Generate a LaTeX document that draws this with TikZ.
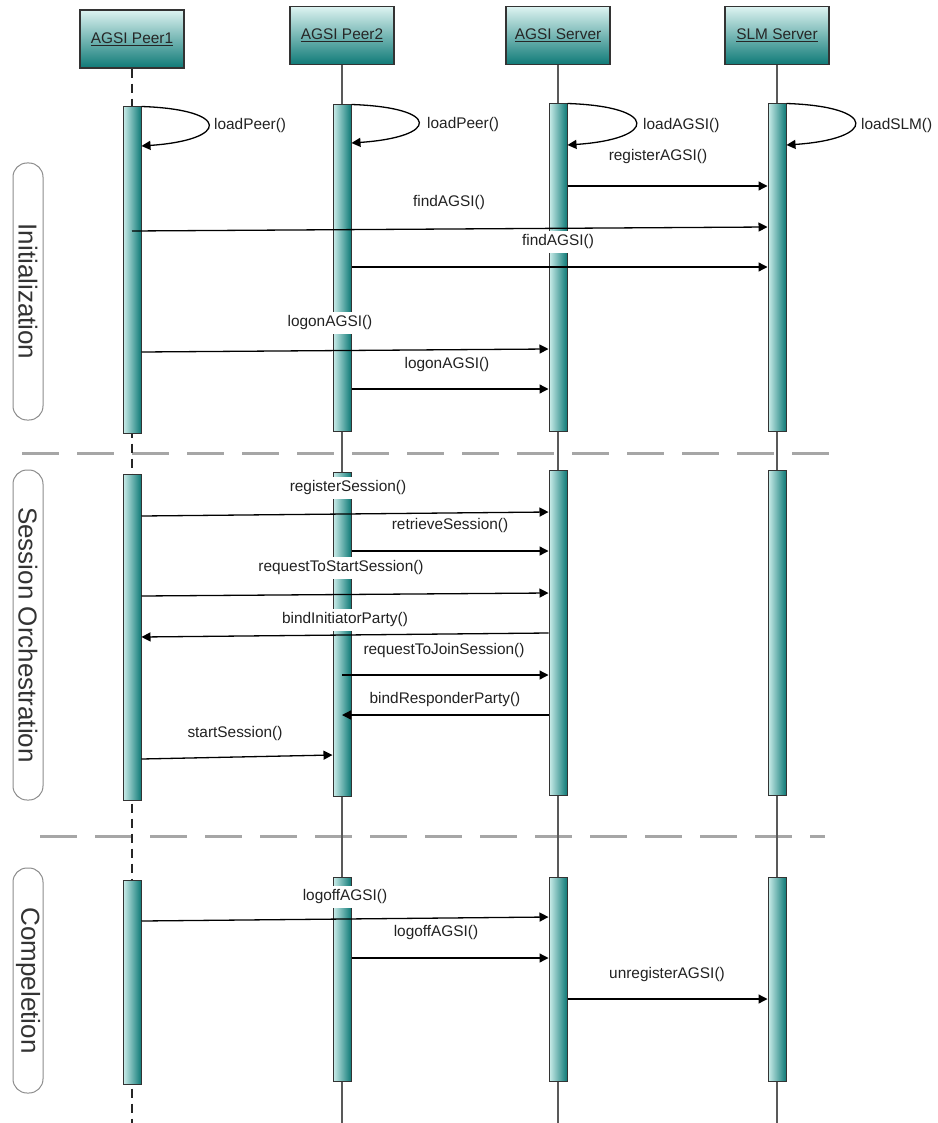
\documentclass[tikz,border=0pt]{standalone}
\usepackage{fontspec}
\setmainfont{Liberation Sans}
\usetikzlibrary{arrows.meta}

\definecolor{tealdark}{HTML}{0F7A77}
\definecolor{teallight}{HTML}{DDF3F1}
\definecolor{barlight}{HTML}{CDEEEB}
\definecolor{inkgray}{HTML}{222222}

\tikzset{
  head/.style={draw=black!80, line width=1.2pt, top color=teallight, bottom color=tealdark,
    minimum width=104pt, minimum height=58pt, inner sep=0pt,
    font=\fontsize{15.4}{18}\selectfont, text=black!85},
  actbar/.style={draw=black!80, line width=1pt, left color=barlight, right color=tealdark,
    minimum width=18pt, inner sep=0pt},
  life/.style={draw=black!65, line width=1.3pt},
  lifedash/.style={draw=black!85, line width=1.3pt, dash pattern=on 9pt off 6pt},
  msg/.style={draw=black, line width=1.3pt, -{Triangle[length=9pt,width=9pt]}},
  lbl/.style={fill=white, inner xsep=1pt, inner ysep=4pt,
    font=\fontsize{15.4}{18}\selectfont, text=inkgray},
  phase/.style={draw=black!45, line width=1pt, rounded corners=14pt, minimum height=30pt,
    inner sep=0pt, rotate=-90, font=\fontsize{26}{30}\selectfont, text=black!80},
  sepline/.style={draw=black!35, line width=3pt, dash pattern=on 37pt off 18pt}
}

\begin{document}
\begin{tikzpicture}[x=1pt,y=-1pt]
\useasboundingbox (0,0) rectangle (937,1123);

% phase separators
\draw[sepline] (22,453) -- (835,453);
\draw[sepline] (40,836) -- (825,836);

% phase labels
\node[phase, minimum width=257pt] (phInit) at (28,291.5) {Initialization};
\node[phase, minimum width=330pt] (phSess) at (28,635) {Session Orchestration};
\node[phase, minimum width=225pt] (phComp) at (28,980.5) {Compeletion};

% participants
\node[head] (h1) at (132,39) {\underline{AGSI Peer1}};
\node[head] (h2) at (342,35.5) {\underline{AGSI Peer2}};
\node[head] (h3) at (558,35.5) {\underline{AGSI Server}};
\node[head] (h4) at (777,35.5) {\underline{SLM Server}};

% lifelines
\coordinate (e1) at (132,1123);
\coordinate (e2) at (342,1123);
\coordinate (e3) at (558,1123);
\coordinate (e4) at (777,1123);
\draw[lifedash] (h1.south) -- (e1);
\draw[life] (h2.south) -- (e2);
\draw[life] (h3.south) -- (e3);
\draw[life] (h4.south) -- (e4);

% activation bars: initialization
\node[actbar, minimum height=326pt] (p1a) at (132,270) {};
\node[actbar, minimum height=326pt] (p2a) at (342,268) {};
\node[actbar, minimum height=327pt] (sa) at (558,267.5) {};
\node[actbar, minimum height=327pt] (la) at (777,267.5) {};
% activation bars: session orchestration
\node[actbar, minimum height=326pt] (p1b) at (132,637) {};
\node[actbar, minimum height=324pt] (p2b) at (342,634) {};
\node[actbar, minimum height=325pt] (sb) at (558,632.5) {};
\node[actbar, minimum height=325pt] (lb) at (777,632.5) {};
% activation bars: completion
\node[actbar, minimum height=204pt] (p1c) at (132,982) {};
\node[actbar, minimum height=204pt] (p2c) at (342,979) {};
\node[actbar, minimum height=204pt] (sc) at (558,979) {};
\node[actbar, minimum height=204pt] (lc) at (777,979) {};

% self calls
\draw[msg] (p1a.north east) .. controls +(90,3) and +(88,-6) .. (p1a.east |- 0,146);
\draw[msg] (p2a.north east) .. controls +(90,3) and +(88,-6) .. (p2a.east |- 0,143);
\draw[msg] (sa.north east) .. controls +(92,3) and +(90,-6) .. (sa.east |- 0,145);
\draw[msg] (la.north east) .. controls +(92,3) and +(90,-6) .. (la.east |- 0,145);
\node[lbl, anchor=west] (lLoad1) at (213,126) {loadPeer()};
\node[lbl, anchor=west] (lLoad2) at (426,125) {loadPeer()};
\node[lbl, anchor=west] (lLoad3) at (642,126) {loadAGSI()};
\node[lbl, anchor=west] (lLoad4) at (860,126) {loadSLM()};

% initialization messages
\draw[msg] (sa.east |- 0,186) -- (la.west |- 0,186);
\draw[msg] (p1a.center |- 0,231) -- (la.west |- 0,227);
\draw[msg] (p2a.east |- 0,267) -- (la.west |- 0,267);
\draw[msg] (p1a.east |- 0,352) -- (sa.west |- 0,349);
\draw[msg] (p2a.east |- 0,389) -- (sa.west |- 0,389);
\node[lbl] (lReg) at (658,157) {registerAGSI()};
\node[lbl] (lFind1) at (449,203) {findAGSI()};
\node[lbl] (lFind2) at (558,242) {findAGSI()};
\node[lbl] (lLogon1) at (330,323) {logonAGSI()};
\node[lbl] (lLogon2) at (447,365) {logonAGSI()};

% session orchestration messages
\draw[msg] (p1b.east |- 0,516) -- (sb.west |- 0,512);
\draw[msg] (p2b.east |- 0,551) -- (sb.west |- 0,551);
\draw[msg] (p1b.east |- 0,596) -- (sb.west |- 0,593);
\draw[msg] (sb.west |- 0,633) -- (p1b.east |- 0,637);
\draw[msg] (p2b.center |- 0,675) -- (sb.west |- 0,675);
\draw[msg] (sb.west |- 0,715) -- (p2b.center |- 0,715);
\draw[msg] (p1b.east |- 0,759) -- (p2b.west |- 0,755);
\node[lbl] (lRegS) at (348,488) {registerSession()};
\node[lbl] (lRetr) at (450,526) {retrieveSession()};
\node[lbl] (lReqStart) at (341,568) {requestToStartSession()};
\node[lbl] (lBindI) at (345,620) {bindInitiatorParty()};
\node[lbl] (lReqJoin) at (444,651) {requestToJoinSession()};
\node[lbl] (lBindR) at (445,700) {bindResponderParty()};
\node[lbl] (lStart) at (235,734) {startSession()};

% completion messages
\draw[msg] (p1c.east |- 0,921) -- (sc.west |- 0,917);
\draw[msg] (p2c.east |- 0,958) -- (sc.west |- 0,958);
\draw[msg] (sc.east |- 0,999) -- (lc.west |- 0,999);
\node[lbl] (lOff1) at (345,897) {logoffAGSI()};
\node[lbl] (lOff2) at (436,933) {logoffAGSI()};
\node[lbl] (lUnreg) at (667,975) {unregisterAGSI()};
\end{tikzpicture}
\end{document}
